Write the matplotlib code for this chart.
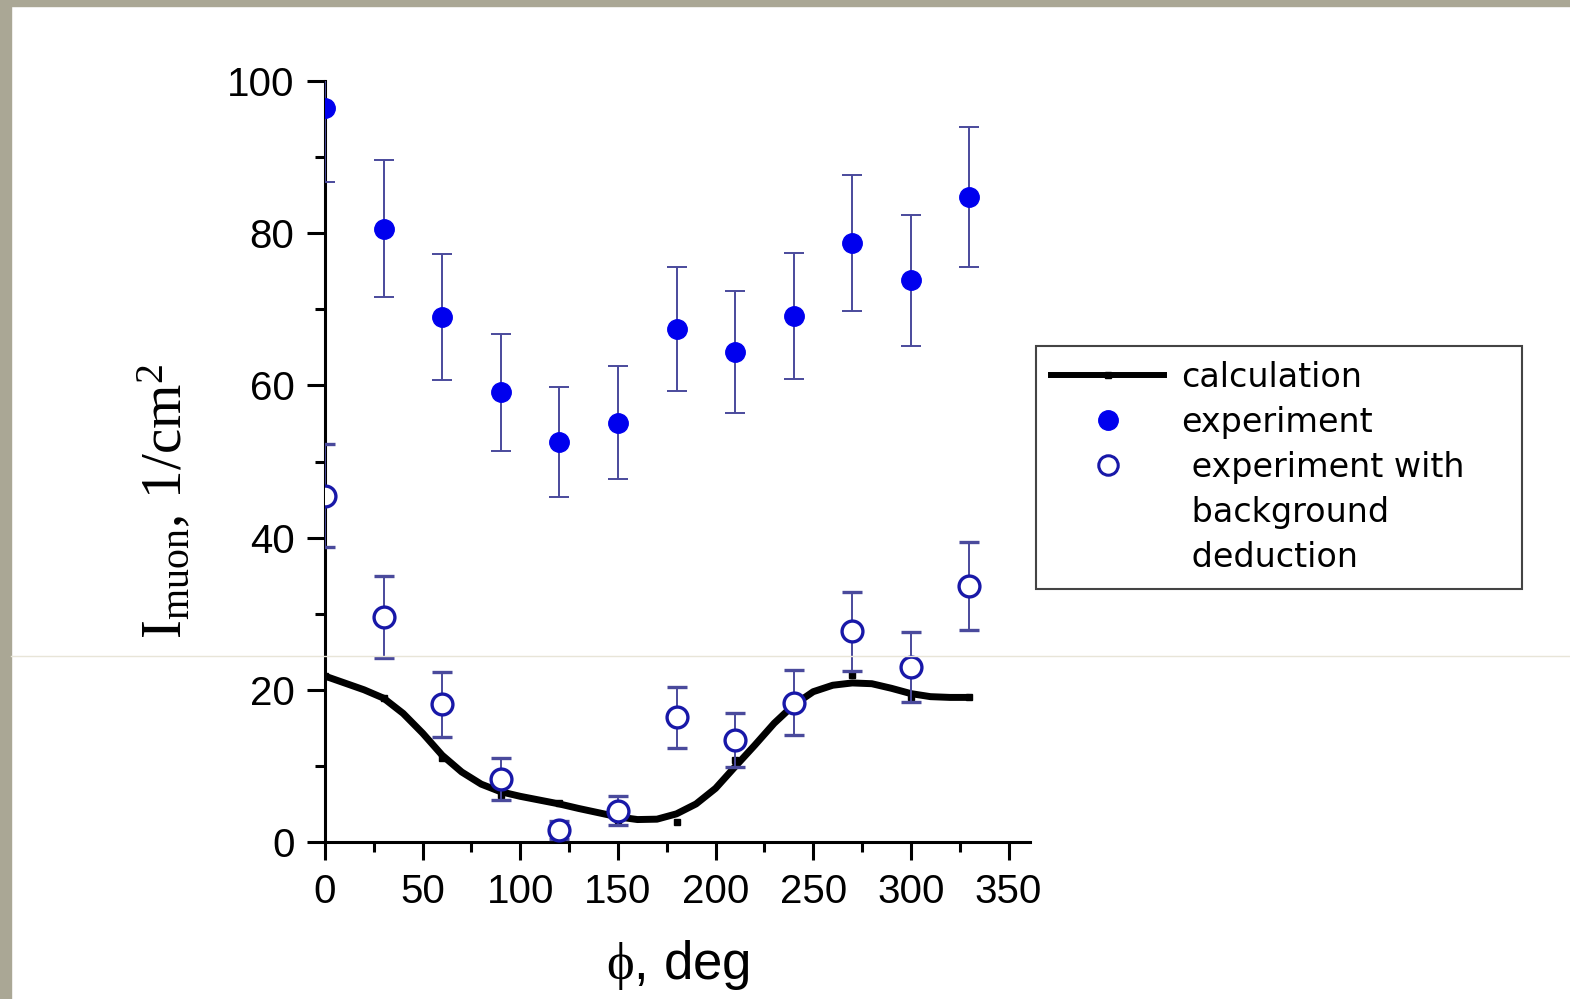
import matplotlib
matplotlib.use("Agg")
import matplotlib.pyplot as plt
from matplotlib.lines import Line2D
from matplotlib.patches import Rectangle
from matplotlib.ticker import MultipleLocator

plt.rcParams['mathtext.fontset'] = 'custom'
plt.rcParams['mathtext.rm'] = 'Liberation Serif'
plt.rcParams['mathtext.it'] = 'Liberation Serif:italic'

# ---- data ----
phi = [0, 30, 60, 90, 120, 150, 180, 210, 240, 270, 300, 330]
exp_val = [96.5, 80.6, 69.0, 59.1, 52.6, 55.1, 67.4, 64.4, 69.1, 78.7, 73.8, 84.8]
exp_err = [9.8, 9.0, 8.3, 7.7, 7.2, 7.4, 8.2, 8.0, 8.3, 8.9, 8.6, 9.2]
bg_val = [45.5, 29.6, 18.1, 8.3, 1.6, 4.1, 16.4, 13.4, 18.3, 27.7, 23.0, 33.6]
bg_err = [6.8, 5.4, 4.3, 2.8, 1.2, 1.9, 4.0, 3.5, 4.3, 5.2, 4.6, 5.8]
calc_pts = [21.8, 18.9, 11.0, 6.2, 5.1, 2.9, 2.6, 10.8, 17.5, 21.9, 19.1, 19.1]
curve_phi = [0, 10, 20, 30, 40, 50, 60, 70, 80, 90, 100, 110, 120, 130, 140, 150, 160,
             170, 180, 190, 200, 210, 220, 230, 240, 250, 260, 270, 280, 290, 300, 310,
             320, 330]
curve_val = [21.8, 20.9, 20.0, 18.9, 16.9, 14.3, 11.4, 9.2, 7.6, 6.6, 6.0, 5.5, 5.0,
             4.4, 3.85, 3.3, 2.95, 3.0, 3.7, 5.0, 7.05, 9.9, 12.7, 15.6, 18.0, 19.75,
             20.6, 20.9, 20.8, 20.2, 19.5, 19.1, 19.0, 19.0]
x_ticks = [0, 50, 100, 150, 200, 250, 300, 350]
y_ticks = [0, 20, 40, 60, 80, 100]

W, H = 1570, 999
fig = plt.figure(figsize=(W / 100, H / 100), dpi=100)
fig.patch.set_facecolor('white')

# slide border
bord = '#aaa795'
fig.add_artist(Rectangle((0, 0), 11 / W, 1, transform=fig.transFigure, color=bord, zorder=-5))
fig.add_artist(Rectangle((0, 1 - 6 / H), 1, 6 / H, transform=fig.transFigure, color=bord, zorder=-5))

ax = fig.add_axes([325 / W, 1 - 842 / H, (1030 - 325) / W, (842 - 81) / H])
ax.set_facecolor('none')

blue = '#0000ee'
dblue = '#1818a8'
ecol = '#4a4a9c'

ax.plot(curve_phi, curve_val, color='black', lw=5.0, solid_capstyle='butt',
        solid_joinstyle='round', zorder=2)
ax.plot(phi, calc_pts, ls='none', marker='s', ms=4, color='black', zorder=2.5)

ax.errorbar(phi, exp_val, yerr=exp_err, fmt='o', color=blue, ms=14,
            ecolor=ecol, elinewidth=1.4, capsize=7.5, capthick=1.4, zorder=3)
ax.errorbar(phi, bg_val, yerr=bg_err, fmt='o', mfc='white', mec=dblue, mew=2.4, ms=15,
            ecolor=ecol, elinewidth=1.4, capsize=7.5, capthick=1.4, zorder=3)

ax.set_xlim(0, 361)
ax.set_ylim(0, 100)
ax.set_xticks(x_ticks)
ax.set_yticks(y_ticks)
ax.xaxis.set_minor_locator(MultipleLocator(25))
ax.yaxis.set_minor_locator(MultipleLocator(10))
for s in ['top', 'right']:
    ax.spines[s].set_visible(False)
for s in ['left', 'bottom']:
    ax.spines[s].set_linewidth(2.2)
ax.tick_params(which='major', direction='out', length=13, width=2.2, pad=9,
               labelsize=29, labelfontfamily='Liberation Sans')
ax.tick_params(which='minor', direction='out', length=7, width=2.2)

ax.set_xlabel(r'$\mathrm{\phi}$, deg', fontsize=38, family='Liberation Sans', labelpad=20)
ax.set_ylabel(r'$\mathrm{I_{muon}},\,\mathrm{1/cm^{2}}$', fontsize=41)
ax.yaxis.set_label_coords(-0.185, 0.447)

# faint slide line
fig.add_artist(Line2D([11 / W, 1], [1 - 656 / H, 1 - 656 / H], transform=fig.transFigure,
                      color='#e8e5d8', lw=1, zorder=10))

h1 = Line2D([], [], color='black', lw=4.3, marker='s', ms=4)
h2 = Line2D([], [], ls='none', marker='o', color=blue, ms=14)
h3 = Line2D([], [], ls='none', marker='o', mfc='white', mec=dblue, mew=2.2, ms=14)
h4 = Line2D([], [], ls='none')
h5 = Line2D([], [], ls='none')
leg = ax.legend([h1, h2, h3, h4, h5],
                ['calculation', 'experiment', ' experiment with    ', ' background', ' deduction'],
                loc='upper left', bbox_to_anchor=(1036 / W, 1 - 346 / H),
                bbox_transform=fig.transFigure, borderaxespad=0, fancybox=False,
                framealpha=1, edgecolor='#444444', prop={'family': 'DejaVu Sans', 'size': 24},
                handlelength=3.4, handletextpad=0.5, labelspacing=0.36, borderpad=0.45,
                numpoints=1)
leg.get_frame().set_linewidth(1.5)

fig.savefig('out.png', dpi=100)
